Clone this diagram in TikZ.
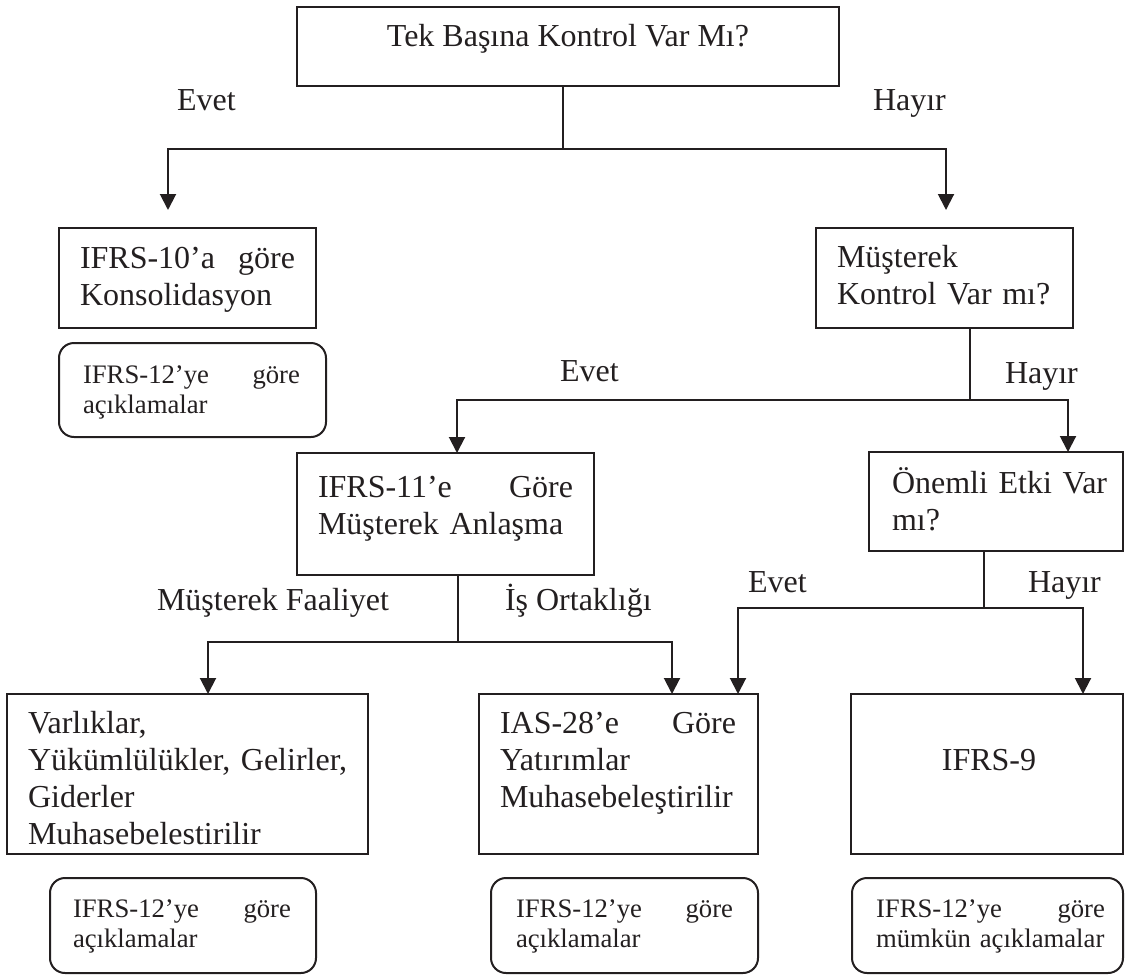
\documentclass[tikz,border=0pt]{standalone}
\usepackage{fontspec}
\setmainfont{Liberation Serif}
\usetikzlibrary{arrows.meta}
\definecolor{ink}{RGB}{35,31,32}
\tikzset{
  box/.style={draw=ink, line width=2pt, inner sep=0pt, outer sep=0pt, anchor=north west},
  notebox/.style={box, rounded corners=15pt},
  txt/.style={inner sep=0pt, outer sep=0pt, text=ink, anchor=base west, align=left,
              font=\fontsize{32}{37}\selectfont},
  smalltxt/.style={txt, font=\fontsize{26.7}{30}\selectfont},
  lbl/.style={txt},
  conn/.style={draw=ink, line width=2pt},
  arr/.style={conn, -{Triangle[width=16pt,length=16pt]}},
}
\begin{document}
\begin{tikzpicture}[x=1pt, y=-1pt]
\useasboundingbox (0,0) rectangle (1126,974);

% decision and result boxes
\node[box, minimum width=542pt, minimum height=79pt]  (top)   at (297,7)   {};
\node[box, minimum width=257pt, minimum height=100pt] (b10)   at (59,228)  {};
\node[notebox, minimum width=267pt, minimum height=94pt] (r1) at (59,343)  {};
\node[box, minimum width=257pt, minimum height=100pt] (must)  at (816,228) {};
\node[box, minimum width=297pt, minimum height=122pt] (b11)   at (297,453) {};
\node[box, minimum width=254pt, minimum height=99pt]  (onem)  at (869,452) {};
\node[box, minimum width=361pt, minimum height=160pt] (varl)  at (7,694)   {};
\node[box, minimum width=279pt, minimum height=160pt] (ias)   at (479,694) {};
\node[box, minimum width=272pt, minimum height=160pt] (ifrs9) at (851,694) {};
\node[notebox, minimum width=266pt, minimum height=95pt] (r2) at (50,878)  {};
\node[notebox, minimum width=267pt, minimum height=95pt] (r3) at (491,878) {};
\node[notebox, minimum width=271pt, minimum height=95pt] (r4) at (852,878) {};

% box texts (first line sits on the given baseline)
\node[txt, anchor=base] (topt) at (568,47) {Tek Başına Kontrol Var Mı?};
\node[txt, text width=215pt] (b10t) at (80,268) {IFRS-10’a\hfill göre\\Konsolidasyon};
\node[smalltxt, text width=217pt] (r1t) at (83,383) {IFRS-12’ye\hfill göre\\açıklamalar};
\node[txt, text width=230pt] (mustt) at (837,267) {Müşterek\\Kontrol Var mı?};
\node[txt, text width=255pt] (b11t) at (318,497) {IFRS-11’e\hfill Göre\\Müşterek Anlaşma};
\node[txt, text width=225pt] (onemt) at (892,493) {Önemli Etki Var\\mı?};
\node[txt, text width=335pt] (varlt) at (28,733) {Varlıklar,\\Yükümlülükler, Gelirler,\\Giderler\\Muhasebelestirilir};
\node[txt, text width=236pt] (iast) at (500,733) {IAS-28’e\hfill Göre\\Yatırımlar\\Muhasebeleştirilir};
\node[txt, anchor=base] (ifrs9t) at (989,770) {IFRS-9};
\node[smalltxt, text width=218pt] (r2t) at (73,917) {IFRS-12’ye\hfill göre\\açıklamalar};
\node[smalltxt, text width=217pt] (r3t) at (516,917) {IFRS-12’ye\hfill göre\\açıklamalar};
\node[smalltxt, text width=229pt] (r4t) at (876,917) {IFRS-12’ye\hfill göre\\mümkün açıklamalar};

% branch labels
\node[lbl] (l1) at (177,110)  {Evet};
\node[lbl] (l2) at (873,110)  {Hayır};
\node[lbl] (l3) at (560,381)  {Evet};
\node[lbl] (l4) at (1005,383) {Hayır};
\node[lbl] (l5) at (157,610)  {Müşterek Faaliyet};
\node[lbl] (l6) at (505,610)  {İş Ortaklığı};
\node[lbl] (l7) at (748,592)  {Evet};
\node[lbl] (l8) at (1028,592) {Hayır};

% junction points of the branches
\coordinate (j1) at (563,149);
\coordinate (j2) at (970,400);
\coordinate (j3) at (458,642);
\coordinate (j4) at (984,608);

% connectors
\draw[conn] (top.south -| j1) -- (j1);
\draw[arr] (j1) -| ([shift={(109pt,18pt)}]b10.north west);
\draw[arr] (j1) -| ([shift={(130pt,18pt)}]must.north west);

\draw[conn] (must.south -| j2) -- (j2);
\draw[arr] (j2) -| ([xshift=160pt]b11.north west);
\draw[arr] (j2) -| ([xshift=199pt]onem.north west);

\draw[conn] (b11.south -| j3) -- (j3);
\draw[arr] (j3) -| ([xshift=201pt]varl.north west);
\draw[arr] (j3) -| ([xshift=193pt]ias.north west);

\draw[conn] (onem.south -| j4) -- (j4);
\draw[arr] (j4) -| ([xshift=259pt]ias.north west);
\draw[arr] (j4) -| ([xshift=232pt]ifrs9.north west);
\end{tikzpicture}
\end{document}
